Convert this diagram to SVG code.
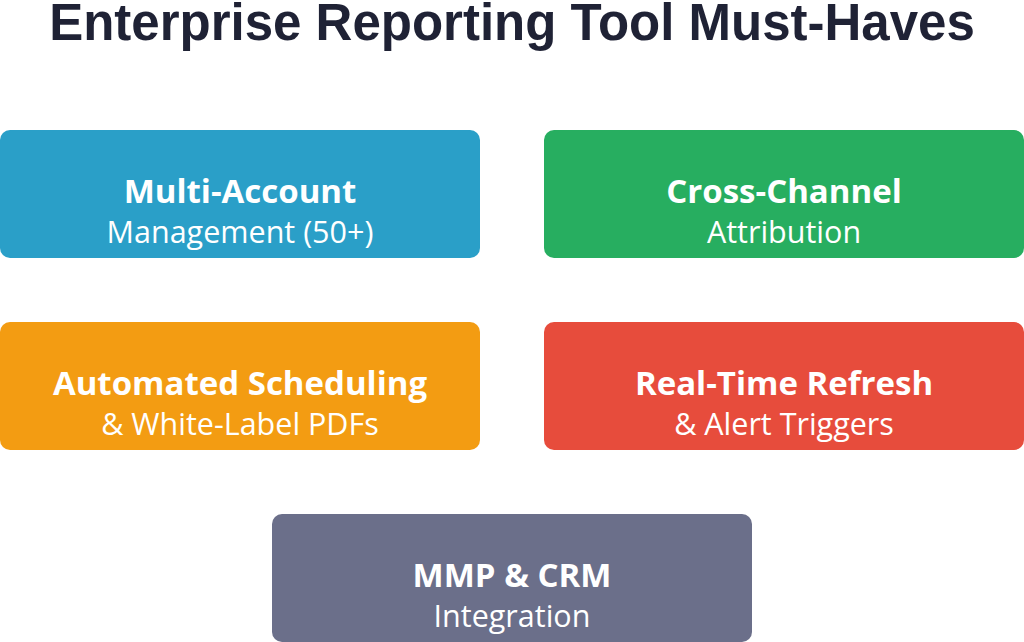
<svg xmlns="http://www.w3.org/2000/svg" width="1024" height="642" viewBox="0 0 1024 642">
<style>
.t{font-family:"Liberation Sans",Arial,sans-serif;font-weight:bold;font-size:51px;fill:#1f2235;text-anchor:middle}
.h{font-family:"Open Sans",sans-serif;font-weight:bold;font-size:33px;fill:#fff;text-anchor:middle}
.s{font-family:"Open Sans",sans-serif;font-size:30.5px;fill:#fff;text-anchor:middle}
</style>
<rect width="1024" height="642" fill="#fff"/>
<text class="t" x="512" y="40">Enterprise Reporting Tool Must-Haves</text>
<g id="connectors"/>
<g id="n1"><rect x="0" y="130" width="480" height="128" rx="10" fill="#2a9fc8"/><text class="h" x="240" y="203">Multi-Account</text><text class="s" x="240" y="243">Management (50+)</text></g>
<g id="n2"><rect x="544" y="130" width="480" height="128" rx="10" fill="#27ae60"/><text class="h" x="784" y="203">Cross-Channel</text><text class="s" x="784" y="243">Attribution</text></g>
<g id="n3"><rect x="0" y="322" width="480" height="128" rx="10" fill="#f39c12"/><text class="h" x="240" y="395">Automated Scheduling</text><text class="s" x="240" y="435">&amp; White-Label PDFs</text></g>
<g id="n4"><rect x="544" y="322" width="480" height="128" rx="10" fill="#e74c3c"/><text class="h" x="784" y="395">Real-Time Refresh</text><text class="s" x="784" y="435">&amp; Alert Triggers</text></g>
<g id="n5"><rect x="272" y="514" width="480" height="128" rx="10" fill="#6b6f8a"/><text class="h" x="512" y="587">MMP &amp; CRM</text><text class="s" x="512" y="627">Integration</text></g>
</svg>
